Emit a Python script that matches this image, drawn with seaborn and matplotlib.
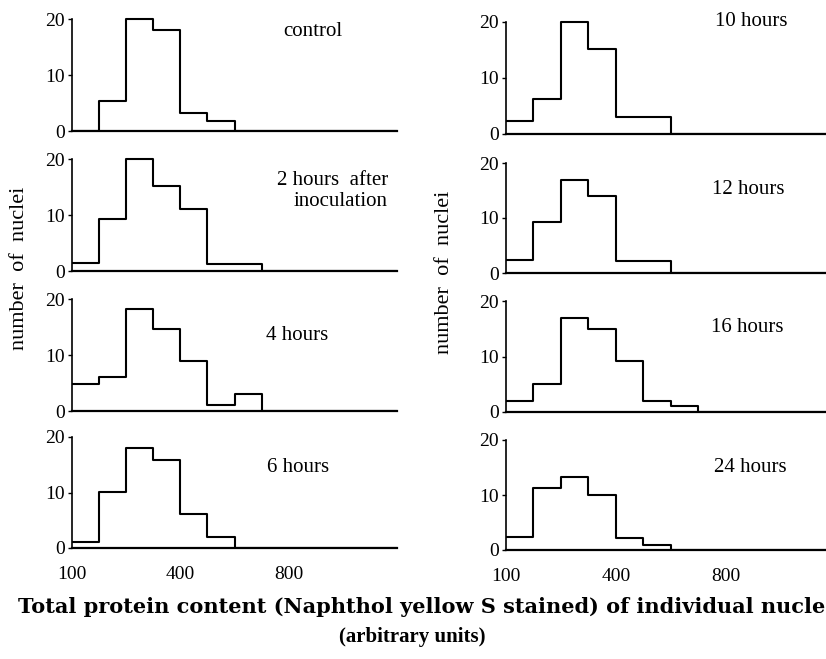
import matplotlib
matplotlib.use("Agg")
import matplotlib.pyplot as plt
import seaborn as sns
import numpy as np

sns.set_style("white")
plt.rcParams['font.family'] = ['Liberation Serif', 'DejaVu Serif']
plt.rcParams['text.color'] = 'black'
plt.rcParams['xtick.color'] = 'black'
plt.rcParams['ytick.color'] = 'black'
plt.rcParams['axes.labelcolor'] = 'black'

# Data: counts per bin (12 equal-width bins)
bin_index = list(range(12))
control = [0, 5.3, 20, 18, 3.3, 1.8, 0, 0, 0, 0, 0, 0]
h2 = [1.4, 9.2, 20, 15.2, 11.1, 1.3, 1.3, 0, 0, 0, 0, 0]
h4 = [4.9, 6.1, 18.3, 14.6, 9.0, 1.1, 3.1, 0, 0, 0, 0, 0]
h6 = [1.1, 10.1, 18.0, 15.8, 6.1, 2.0, 0, 0, 0, 0, 0, 0]
h10 = [2.4, 6.2, 20, 15.2, 3.0, 3.0, 0, 0, 0, 0, 0, 0]
h12 = [2.4, 9.2, 17.0, 14.0, 2.1, 2.1, 0, 0, 0, 0, 0, 0]
h16 = [1.9, 5.1, 17.0, 15.0, 9.1, 1.9, 1.0, 0, 0, 0, 0, 0]
h24 = [2.3, 11.2, 13.2, 10.0, 2.2, 1.0, 0, 0, 0, 0, 0, 0]

panel_labels = ["control", "2 hours  after\ninoculation", "4 hours", "6 hours",
                "10 hours", "12 hours", "16 hours", "24 hours"]
series = [control, h2, h4, h6, h10, h12, h16, h24]

x_tick_pos = [0, 4, 8]
x_tick_labels = ["100", "400", "800"]
y_ticks = [0, 10, 20]

W, H = 826, 659
fig = plt.figure(figsize=(W / 100, H / 100), dpi=100)

# (left px, width px), (y0 px, top px)
left_col = (72, 325)
right_col = (506, 330)
left_rows = [(131, 7.8), (271, 147.8), (411, 287.8), (548, 425.9)]
right_rows = [(134, 10.8), (273, 152.0), (412, 289.9), (550, 429.0)]

label_pos = [
    (313, 32, 'center'), (388, 191, 'right'), (297, 335, 'center'), (298, 468, 'center'),
    (751, 22, 'center'), (748, 190, 'center'), (747, 328, 'center'), (750, 467, 'center'),
]

centers = [b + 0.5 for b in bin_index]

for i in range(8):
    col = left_col if i < 4 else right_col
    y0, top = (left_rows if i < 4 else right_rows)[i % 4]
    ax = fig.add_axes([col[0] / W, 1 - y0 / H, col[1] / W, (y0 - top) / H])
    sns.histplot(x=centers, weights=series[i], bins=12, binrange=(0, 12),
                 element="step", fill=False, color="black", linewidth=1.5, ax=ax)
    ax.set_xlim(0, 12)
    ax.set_ylim(0, 22)
    ax.set_xlabel("")
    ax.set_ylabel("")
    for s in ["top", "right"]:
        ax.spines[s].set_visible(False)
    ax.spines["left"].set_bounds(0, 20)
    ax.spines["left"].set_linewidth(1.2)
    ax.spines["bottom"].set_linewidth(1.6)
    ax.spines["left"].set_color("black")
    ax.spines["bottom"].set_color("black")
    ax.set_yticks(y_ticks)
    ax.set_yticklabels([str(t) for t in y_ticks], fontsize=14)
    ax.tick_params(axis="y", direction="out", length=3, width=1, pad=2, left=True)
    if i % 4 == 3:
        ax.set_xticks(x_tick_pos)
        ax.set_xticklabels(x_tick_labels, fontsize=14)
        ax.tick_params(axis="x", length=0, pad=13)
    else:
        ax.set_xticks([])
    lx, ly, ha = label_pos[i]
    fig.text(lx / W, 1 - ly / H, panel_labels[i], fontsize=15, ha=ha, va="center",
             linespacing=1.1)

fig.text(20 / W, 1 - 268 / H, "number  of  nuclei", rotation=90, fontsize=16,
         ha="center", va="center")
fig.text(445 / W, 1 - 272 / H, "number  of  nuclei", rotation=90, fontsize=16,
         ha="center", va="center")

fig.text(18 / W, 1 - 607 / H,
         "Total protein content (Naphthol yellow S stained) of individual nuclei",
         fontsize=15, family=['DejaVu Serif'], weight='semibold', ha="left", va="center")
fig.text(412 / W, 1 - 637 / H, "(arbitrary units)", fontsize=15,
         family=['Liberation Serif'], weight='bold', ha="center", va="center")

fig.savefig("out.png", dpi=100)
